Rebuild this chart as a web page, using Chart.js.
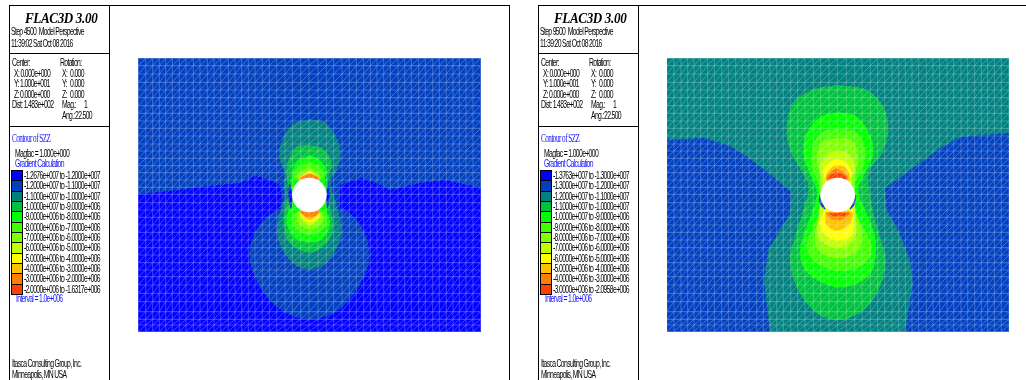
<!DOCTYPE html>
<html>
<head>
<meta charset="utf-8">
<script src="https://cdn.jsdelivr.net/npm/chart.js@4"></script>
<style>
html, body { margin: 0; padding: 0; background: #fff; width: 1026px; height: 380px; overflow: hidden; }
canvas { position: absolute; }
.panel { position: absolute; top: 0; width: 510px; height: 380px; }
.line { position: absolute; background: #000; }
.t { position: absolute; white-space: nowrap; font-family: "Liberation Sans Narrow", "Liberation Sans", sans-serif; font-size: 10.5px; line-height: 10px; letter-spacing: -1px; color: #000; transform: scaleX(0.65); transform-origin: 0 50%; }
.blue { color: #1414ff; }
.title { font-family: "Liberation Serif", serif; font-weight: bold; font-style: italic; font-size: 15px; line-height: 15px; letter-spacing: -0.4px; color: #000; transform: scaleX(0.87); }
.contour { font-family: "Liberation Serif", serif; font-size: 12px; line-height: 12px; letter-spacing: -0.9px; color: #1414ff; transform: scaleX(0.6); }
.swatch { position: absolute; left: 11px; width: 10px; height: 9.33px; border: 1px solid #000; border-width: 1px 1px 0 1px; }
</style>
</head>
<body>
<canvas id="plotLeft" width="345" height="276" style="left:137px;top:57px"></canvas>
<canvas id="plotRight" width="344" height="276" style="left:666px;top:57px"></canvas>
<script>
// contour band colours, lowest stress first
const bandColors = ['#0000ff', '#0040c0', '#008080', '#00c040', '#00ff00', '#40ff00', '#80ff00', '#c0ff00', '#ffff00', '#ffc000', '#ff8000', '#ff4000'];

const leftLegend = ['-1.2676e+007 to -1.2000e+007', '-1.2000e+007 to -1.1000e+007', '-1.1000e+007 to -1.0000e+007', '-1.0000e+007 to -9.0000e+006', '-9.0000e+006 to -8.0000e+006', '-8.0000e+006 to -7.0000e+006', '-7.0000e+006 to -6.0000e+006', '-6.0000e+006 to -5.0000e+006', '-5.0000e+006 to -4.0000e+006', '-4.0000e+006 to -3.0000e+006', '-3.0000e+006 to -2.0000e+006', '-2.0000e+006 to -1.6317e+006'];
const rightLegend = ['-1.3763e+007 to -1.3000e+007', '-1.3000e+007 to -1.2000e+007', '-1.2000e+007 to -1.1000e+007', '-1.1000e+007 to -1.0000e+007', '-1.0000e+007 to -9.0000e+006', '-9.0000e+006 to -8.0000e+006', '-8.0000e+006 to -7.0000e+006', '-7.0000e+006 to -6.0000e+006', '-6.0000e+006 to -5.0000e+006', '-5.0000e+006 to -4.0000e+006', '-4.0000e+006 to -3.0000e+006', '-3.0000e+006 to -2.0958e+006'];

// model extents and mesh lines
const leftRange = [-514, 515];
const rightRange = [-512, 514];
const yRange = [-411, 411];
const holeRadius = 17.3;
const meshX = [-513, -491, -470, -450, -431, -411, -390, -370, -348, -328, -306, -286, -266, -243, -223, -203, -183, -163, -141, -120, -98, -73, -51, -26, -1, 26, 51, 73, 98, 120, 141, 163, 183, 203, 223, 243, 266, 286, 306, 328, 348, 370, 390, 411, 431, 450, 470, 491, 514];
const meshY = [410, 388, 363, 338, 315, 292, 268, 245, 222, 200, 177, 153, 132, 110, 88, 67, 45, 23, 2, -23, -45, -67, -90, -112, -135, -158, -180, -203, -225, -245, -270, -295, -320, -350, -373, -390, -410];

// step 4500 contours
const leftBand0 = [[-514, 3], [-418, 12], [-304, 27], [-208, 36], [-163, 57], [-139, 51], [-97, 36], [-88, 30], [-83, -5], [-88, -40], [0, -45], [92, -40], [92, 30], [157, 51], [202, 36], [242, 15], [332, 36], [407, 45], [515, 21], [515, -411], [-514, -411]];
const leftLobe1 = [[-83, -40], [-133, -70], [-168, -125], [-180, -175], [-168, -235], [-128, -305], [-68, -355], [0, -373], [72, -355], [132, -300], [172, -225], [180, -175], [167, -115], [132, -65], [92, -40]];
const leftBand2 = [[0, 227], [47, 217], [82, 170], [94, 120], [82, 75], [64, 40], [74, -5], [87, -50], [97, -105], [82, -160], [42, -210], [0, -223], [-43, -210], [-83, -160], [-98, -105], [-88, -50], [-73, -5], [-76, 35], [-73, 65], [-88, 105], [-88, 145], [-53, 210]];
const leftBand3 = [[2, 150], [42, 137], [67, 95], [57, 50], [62, -10], [62, -35], [72, -95], [52, -145], [0, -173], [-58, -145], [-76, -95], [-73, -45], [-63, 5], [-68, 85], [-38, 143]];
const leftBand4 = [[2, 120], [32, 105], [52, 70], [47, 50], [52, -5], [52, -45], [62, -85], [42, -130], [0, -143], [-43, -130], [-68, -85], [-63, -45], [-53, 0], [-53, 55], [-38, 100]];
const leftBand5Top = [[0, 100], [30, 85], [45, 55], [0, 40], [-48, 55], [-30, 85]];
const leftBand5Low = [[-48, -55], [-48, -95], [0, -120], [47, -95], [47, -55], [0, -40]];
const leftBand6Top = [[0, 85], [34, 55], [0, 40], [-38, 55]];
const leftBand6Low = [[-38, -55], [-33, -85], [2, -103], [37, -85], [37, -55], [0, -40]];
const leftBand7Top = [[2, 75], [27, 50], [0, 40], [-28, 50]];
const leftBand7Low = [[-28, -57], [-23, -75], [2, -90], [27, -75], [32, -57], [0, -40]];
const leftBand8Top = [[0, 70], [26, 52], [0, 35], [-28, 52]];
const leftBand8Low = [[-26, -55], [-13, -75], [0, -81], [17, -75], [30, -55], [0, -40]];
const leftBand9Top = [[0, 67], [32, 48], [0, 35], [-34, 48]];
const leftBand9Low = [[-32, -50], [0, -75], [32, -50], [0, -40]];
const leftBand10Top = [[-30, 48], [0, 64], [30, 48], [0, 40]];
const leftBand10Low = [[-30, -50], [0, -68], [30, -50], [0, -40]];
const leftSideOuter = [[-60, 40], [-64, 0], [-55, -42], [-50, 0]];
const leftSideInner = [[-58, 20], [-60, 0], [-55, -24], [-53, 0]];
const rightSideOuter = [[58, 42], [62, 0], [54, -42], [50, 0]];
const rightSideInner = [[56, 22], [59, 0], [54, -24], [52, 0]];

// step 9500 contours
const rightBand1a = [[-512, 165], [-400, 171], [-330, 150], [-293, 129], [-218, 75], [-140, 10], [-143, -55], [-173, -105], [-208, -165], [-221, -255], [-203, -411], [-512, -411]];
const rightBand1b = [[514, 186], [442, 180], [367, 174], [307, 140], [142, 20], [147, -45], [182, -105], [217, -195], [225, -265], [202, -411], [514, -411]];
const rightBand3 = [[2, 330], [87, 315], [137, 265], [152, 195], [137, 135], [97, 75], [92, 45], [107, -55], [127, -125], [144, -195], [127, -275], [77, -345], [7, -375], [-63, -355], [-123, -275], [-143, -195], [-128, -125], [-103, -45], [-88, 25], [-113, 80], [-143, 135], [-153, 205], [-133, 275], [-78, 315]];
const rightBand4 = [[2, 248], [57, 235], [97, 180], [107, 125], [87, 75], [62, 15], [87, -55], [112, -125], [112, -195], [92, -245], [17, -277], [-43, -265], [-98, -225], [-113, -165], [-93, -95], [-68, -25], [-63, 15], [-88, 75], [-103, 125], [-93, 185], [-53, 235]];
const rightBand5 = [[-3, 198], [52, 190], [82, 140], [77, 85], [52, 35], [57, -55], [92, -125], [102, -165], [77, -210], [2, -227], [-68, -200], [-93, -155], [-73, -95], [-58, -55], [-58, 35], [-78, 85], [-73, 155], [-43, 190]];
const rightBand6 = [[-3, 170], [42, 165], [62, 115], [52, 55], [52, -45], [72, -105], [62, -165], [2, -190], [-58, -165], [-68, -115], [-53, -55], [-53, 55], [-63, 115], [-43, 160]];
const rightBand7 = [[-3, 132], [32, 125], [52, 85], [42, 45], [52, -55], [52, -125], [2, -160], [-53, -135], [-61, -95], [-53, -45], [-48, 50], [-53, 90], [-28, 125]];
const rightBand8 = [[-3, 108], [22, 100], [42, 70], [37, 45], [47, -65], [42, -120], [2, -137], [-38, -120], [-53, -85], [-43, -50], [-38, 45], [-43, 75], [-23, 100]];
const rightBand9Top = [[-8, 90], [22, 85], [37, 55], [32, 40], [-33, 40], [-33, 65]];
const rightBand9Low = [[-38, -50], [42, -50], [37, -85], [2, -107], [-33, -90]];
const rightBand10Top = [[-3, 80], [27, 60], [27, 43], [-31, 43], [-28, 65]];
const rightBand10Low = [[-35, -53], [37, -53], [22, -70], [2, -75], [-23, -70]];
const rightBand11Top = [[-3, 70], [27, 55], [25, 45], [-28, 45], [-25, 57]];
const rightBand11Low = [[-31, -55], [32, -55], [17, -63], [-13, -63]];
const rightCrescentA = [[-55, 2], [-54, -26], [-36, -44], [-47, -20]];
const rightCrescentB = [[54, 2], [52, -26], [36, -44], [46, -20]];

function rect(xr) {
    return [[xr[0], yRange[1]], [xr[1], yRange[1]], [xr[1], yRange[0]], [xr[0], yRange[0]]];
}

function shape(points, color, tension) {
    const first = points[0];
    const data = points.concat([first]).map(p => ({ x: p[0], y: p[1] }));
    return { data, showLine: true, fill: 'shape', backgroundColor: color, borderWidth: 0, pointRadius: 0, tension: tension };
}

// horizontal and vertical mesh lines, broken up with empty points
function meshLines(xr) {
    const data = [];
    meshX.forEach(x => data.push({ x, y: yRange[0] }, { x, y: yRange[1] }, { x: null, y: null }));
    meshY.forEach(y => data.push({ x: xr[0], y }, { x: xr[1], y }, { x: null, y: null }));
    return { data, showLine: true, fill: false, borderColor: 'rgba(255,255,255,0.24)', borderWidth: 1.1, pointRadius: 0 };
}

// one diagonal per mesh cell
function meshDiagonals() {
    const data = [];
    for (let i = 0; i < meshX.length - 1; i++) {
        for (let j = 0; j < meshY.length - 1; j++) {
            data.push({ x: meshX[i], y: meshY[j + 1] }, { x: meshX[i + 1], y: meshY[j] }, { x: null, y: null });
        }
    }
    return { data, showLine: true, fill: false, borderColor: 'rgba(255,255,255,0.38)', borderWidth: 0.7, pointRadius: 0 };
}

function drawPlot(id, xr, layers) {
    const datasets = layers.concat([
        meshLines(xr),
        meshDiagonals(),
        { data: [{ x: 0, y: 0 }], pointRadius: holeRadius, pointBackgroundColor: '#fff', pointBorderWidth: 0, showLine: false }
    ]);
    datasets.forEach((d, i) => { d.order = datasets.length - i; });
    new Chart(document.getElementById(id), {
        type: 'scatter',
        data: { datasets },
        options: {
            responsive: false,
            animation: false,
            layout: { padding: 1, autoPadding: false },
            plugins: { legend: { display: false }, tooltip: { enabled: false } },
            scales: {
                x: { type: 'linear', display: false, min: xr[0], max: xr[1] },
                y: { type: 'linear', display: false, min: yRange[0], max: yRange[1] }
            }
        }
    });
}

const soft = 0.35;
drawPlot('plotLeft', leftRange, [
    shape(rect(leftRange), bandColors[1], 0),
    shape(leftBand0, bandColors[0], 0),
    shape(leftLobe1, bandColors[1], soft),
    shape(leftBand2, bandColors[2], soft),
    shape(leftBand3, bandColors[3], soft),
    shape(leftBand4, bandColors[4], soft),
    shape(leftSideOuter, bandColors[1], soft),
    shape(rightSideOuter, bandColors[1], soft),
    shape(leftSideInner, bandColors[0], soft),
    shape(rightSideInner, bandColors[0], soft),
    shape(leftBand5Top, bandColors[5], soft),
    shape(leftBand5Low, bandColors[5], soft),
    shape(leftBand6Top, bandColors[6], soft),
    shape(leftBand6Low, bandColors[6], soft),
    shape(leftBand7Top, bandColors[7], soft),
    shape(leftBand7Low, bandColors[7], soft),
    shape(leftBand8Top, bandColors[8], soft),
    shape(leftBand8Low, bandColors[8], soft),
    shape(leftBand9Top, bandColors[9], soft),
    shape(leftBand9Low, bandColors[9], soft),
    shape(leftBand10Top, bandColors[10], soft),
    shape(leftBand10Low, bandColors[10], soft)
]);

drawPlot('plotRight', rightRange, [
    shape(rect(rightRange), bandColors[2], 0),
    shape(rightBand1a, bandColors[1], 0),
    shape(rightBand1b, bandColors[1], 0),
    shape(rightBand3, bandColors[3], soft),
    shape(rightBand4, bandColors[4], soft),
    shape(rightBand5, bandColors[5], soft),
    shape(rightBand6, bandColors[6], soft),
    shape(rightBand7, bandColors[7], soft),
    shape(rightBand8, bandColors[8], soft),
    shape(rightBand9Top, bandColors[9], soft),
    shape(rightBand9Low, bandColors[9], soft),
    shape(rightBand10Top, bandColors[10], soft),
    shape(rightBand10Low, bandColors[10], soft),
    shape(rightBand11Top, bandColors[11], soft),
    shape(rightBand11Low, bandColors[11], soft),
    shape(rightCrescentA, bandColors[1], soft),
    shape(rightCrescentB, bandColors[1], soft)
]);

function addPanel(offset, stepText, timeText, legend) {
    const el = document.createElement('div');
    el.className = 'panel';
    el.style.left = offset + 'px';
    const line = (l, t, w, h) => `<div class="line" style="left:${l}px;top:${t}px;width:${w}px;height:${h}px"></div>`;
    const text = (l, t, s, cls) => `<div class="t ${cls || ''}" style="left:${l}px;top:${t}px">${s}</div>`;
    let html = line(9, 5, 501, 1) + line(9, 5, 1, 375) + line(109, 5, 1, 375) + line(509, 5, 1, 375)
        + line(10, 53, 99, 1) + line(10, 126, 99, 1);
    html += text(25, 11, 'FLAC3D 3.00', 'title');
    html += text(11, 26, stepText) + text(11, 38, timeText);
    html += text(12, 57, 'Center:') + text(60, 57, 'Rotation:');
    html += text(14, 68, 'X: 0.000e+000') + text(62, 68, 'X:') + text(70, 68, '0.000');
    html += text(14, 78, 'Y: 1.000e+001') + text(62, 78, 'Y:') + text(70, 78, '0.000');
    html += text(14, 89, 'Z: 0.000e+000') + text(62, 89, 'Z:') + text(70, 89, '0.000');
    html += text(12, 99, 'Dist: 1.483e+002') + text(62, 99, 'Mag.:') + text(84, 99, '1');
    html += text(62, 110, 'Ang.:') + text(75, 110, '22.500');
    html += text(12, 132, 'Contour of SZZ', 'contour');
    html += text(15, 148, 'Magfac = 1.000e+000');
    html += text(15, 158, 'Gradient Calculation', 'blue');
    legend.forEach((label, i) => {
        const top = 170 + i * 10.33;
        html += `<div class="swatch" style="top:${top}px;background:${bandColors[i]}"></div>`;
        html += text(24, top, label);
    });
    html += line(11, 294, 12, 1);
    html += text(16, 293, 'Interval = 1.0e+006', 'blue');
    html += text(12, 358, 'Itasca Consulting Group, Inc.') + text(12, 369, 'Minneapolis, MN USA');
    el.innerHTML = html;
    document.body.appendChild(el);
}

addPanel(0, 'Step 4500 &nbsp;Model Perspective', '11:39:02 Sat Oct 08 2016', leftLegend);
addPanel(529, 'Step 9500 &nbsp;Model Perspective', '11:39:20 Sat Oct 08 2016', rightLegend);
</script>
</body>
</html>
